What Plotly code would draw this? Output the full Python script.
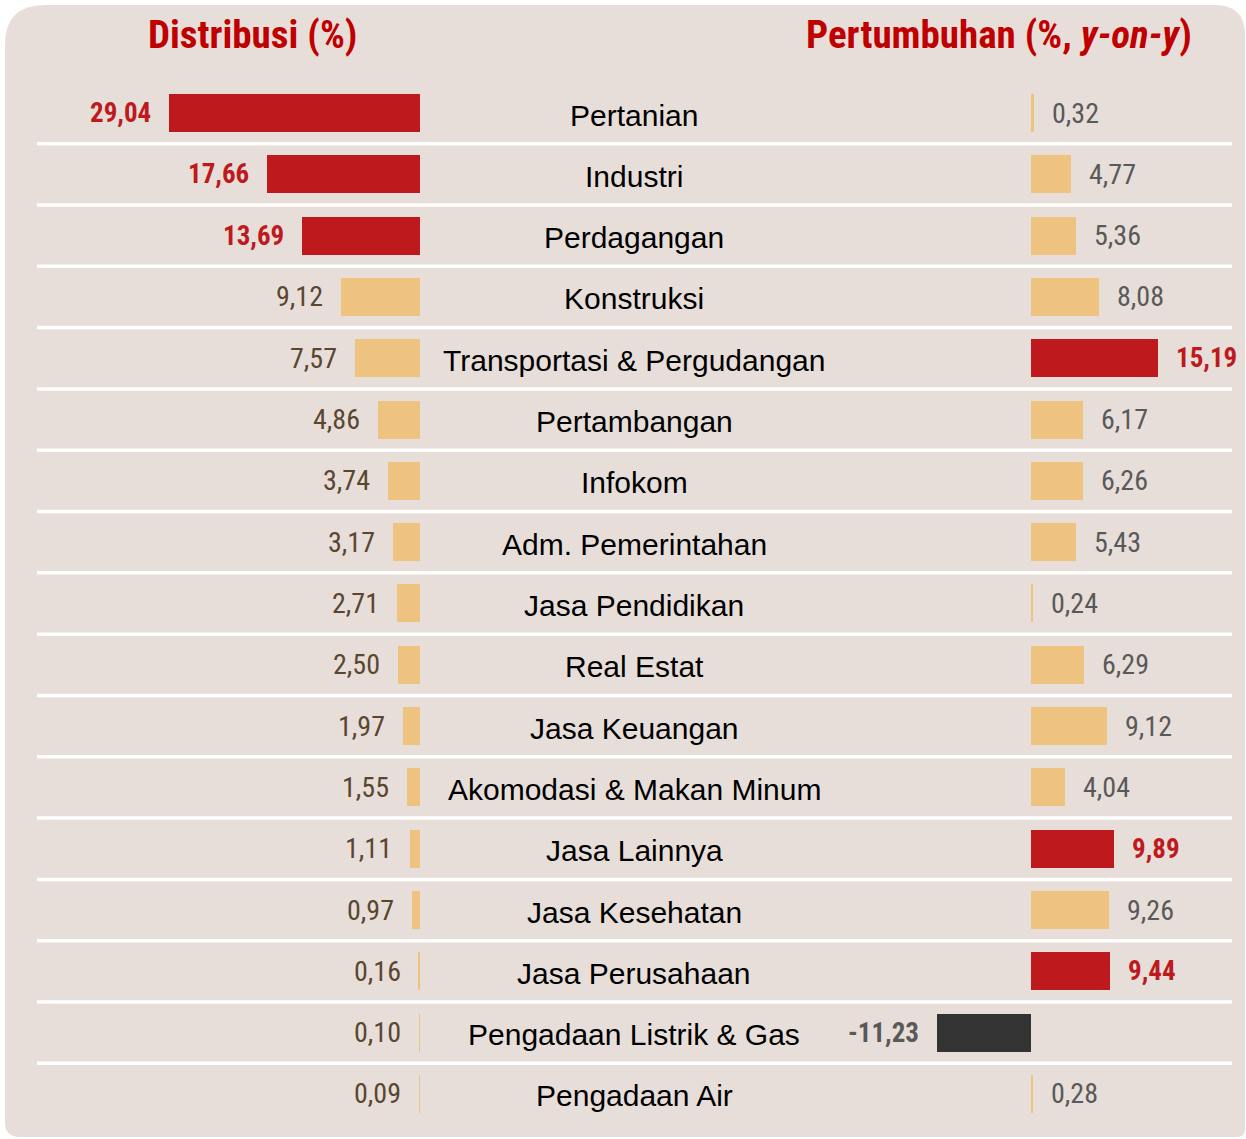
import plotly.graph_objects as go

# ---------------- data ----------------
categories = ["Pertanian", "Industri", "Perdagangan", "Konstruksi",
              "Transportasi & Pergudangan", "Pertambangan", "Infokom",
              "Adm. Pemerintahan", "Jasa Pendidikan", "Real Estat",
              "Jasa Keuangan", "Akomodasi & Makan Minum", "Jasa Lainnya",
              "Jasa Kesehatan", "Jasa Perusahaan", "Pengadaan Listrik & Gas",
              "Pengadaan Air"]
distribusi = [29.04, 17.66, 13.69, 9.12, 7.57, 4.86, 3.74, 3.17, 2.71, 2.50,
              1.97, 1.55, 1.11, 0.97, 0.16, 0.10, 0.09]
pertumbuhan = [0.32, 4.77, 5.36, 8.08, 15.19, 6.17, 6.26, 5.43, 0.24, 6.29,
               9.12, 4.04, 9.89, 9.26, 9.44, -11.23, 0.28]
title_left = "Distribusi (%)"
title_right = "Pertumbuhan (%, <i>y-on-y</i>)"

# ---------------- styles ----------------
W, H = 1246, 1139
RED = "#BE1A1E"
BEIGE = "#EEC27F"
DARK = "#333333"
BG = "#E7DED9"
TITLE_RED = "#C00000"
BROWN = "#5A4630"
GRAY = "#595959"
NARROW = "Roboto Condensed, Liberation Sans Narrow, DejaVu Sans Condensed, sans-serif"
REG = "Liberation Sans, Arial, sans-serif"

def top3(vals):
    s = sorted(vals, reverse=True)[:3]
    return [v in s for v in vals]

left_hi = top3(distribusi)
right_hi = top3(pertumbuhan)
left_colors = [RED if h else BEIGE for h in left_hi]
right_colors = [(RED if h else BEIGE) if v >= 0 else DARK for v, h in zip(pertumbuhan, right_hi)]

fmt = lambda v: f"{v:.2f}".replace(".", ",")

fig = go.Figure()
fig.add_trace(go.Bar(y=categories, x=distribusi, orientation="h", xaxis="x", yaxis="y",
                     marker=dict(color=left_colors, line=dict(width=0)), width=0.62,
                     hoverinfo="skip", showlegend=False))
fig.add_trace(go.Bar(y=categories, x=pertumbuhan, orientation="h", xaxis="x2", yaxis="y",
                     marker=dict(color=right_colors, line=dict(width=0)), width=0.62,
                     hoverinfo="skip", showlegend=False))

pitch = 61.31
first_center = 113
y_min = -first_center / pitch
y_max = y_min + H / pitch
lscale = 8.65
rscale = 8.37
left_zero = 420
right_start = 800
right_zero = 1031
r0 = -(right_zero - right_start) / rscale
r1 = r0 + (W - right_start) / rscale

ax_common = dict(showgrid=False, zeroline=False, showticklabels=False, showline=False, ticks="", fixedrange=True)
fig.update_layout(
    width=W, height=H,
    margin=dict(l=0, r=0, t=0, b=0),
    paper_bgcolor="white", plot_bgcolor="rgba(0,0,0,0)",
    xaxis=dict(domain=[0, left_zero / W], range=[left_zero / lscale, 0], **ax_common),
    xaxis2=dict(domain=[right_start / W, 1], range=[r0, r1], anchor="y", **ax_common),
    yaxis=dict(domain=[0, 1], type="category", categoryorder="array", categoryarray=categories,
               range=[y_max, y_min], **ax_common),
    bargap=0,
)

def px(x):
    return x / W

def py(y):
    return 1 - y / H

x0, x1, yt, yb = 5, 1245, 5, 1137
rtl, rtr, rbr, rbl = 40, 30, 8, 15
path = (f"M {px(x0+rtl)},{py(yt)} L {px(x1-rtr)},{py(yt)} Q {px(x1)},{py(yt)} {px(x1)},{py(yt+rtr)} "
        f"L {px(x1)},{py(yb-rbr)} Q {px(x1)},{py(yb)} {px(x1-rbr)},{py(yb)} "
        f"L {px(x0+rbl)},{py(yb)} Q {px(x0)},{py(yb)} {px(x0)},{py(yb-rbl)} "
        f"L {px(x0)},{py(yt+rtl)} Q {px(x0)},{py(yt)} {px(x0+rtl)},{py(yt)} Z")
shapes = [dict(type="path", path=path, xref="paper", yref="paper", fillcolor=BG,
               line=dict(width=0), layer="below")]
for i in range(len(categories) - 1):
    shapes.append(dict(type="line", xref="paper", yref="y", x0=37 / W, x1=1232 / W,
                       y0=i + 0.5, y1=i + 0.5, line=dict(color="white", width=3.5), layer="below"))
fig.update_layout(shapes=shapes)

ann = []
ann.append(dict(text=f"<b>{title_left}</b>", x=252 / W, y=py(35), xref="paper", yref="paper",
                showarrow=False, xanchor="center", yanchor="middle",
                font=dict(family=NARROW, size=39, color=TITLE_RED)))
ann.append(dict(text=f"<b>{title_right}</b>", x=999 / W, y=py(35), xref="paper", yref="paper",
                showarrow=False, xanchor="center", yanchor="middle",
                font=dict(family=NARROW, size=39, color=TITLE_RED)))
for c in categories:
    ann.append(dict(text=c, x=634 / W, y=c, xref="paper", yref="y", showarrow=False,
                    xanchor="center", yanchor="middle", yshift=-2,
                    font=dict(family=REG, size=30, color="black")))
for c, v, h in zip(categories, distribusi, left_hi):
    ann.append(dict(text=f"<b>{fmt(v)}</b>" if h else fmt(v), x=v, y=c, xref="x", yref="y",
                    showarrow=False, xanchor="right", yanchor="middle", xshift=-16,
                    font=dict(family=NARROW, size=27 if h else 28, color=RED if h else BROWN)))
for c, v, h in zip(categories, pertumbuhan, right_hi):
    if v >= 0:
        ann.append(dict(text=f"<b>{fmt(v)}</b>" if h else fmt(v), x=v, y=c, xref="x2", yref="y",
                        showarrow=False, xanchor="left", yanchor="middle", xshift=16,
                        font=dict(family=NARROW, size=27 if h else 28, color=RED if h else GRAY)))
    else:
        ann.append(dict(text=f"<b>{fmt(v)}</b>", x=v, y=c, xref="x2", yref="y",
                        showarrow=False, xanchor="right", yanchor="middle", xshift=-16,
                        font=dict(family=NARROW, size=27, color=GRAY)))
fig.update_layout(annotations=ann)

fig.write_html("out.html", config={"displayModeBar": False},
               post_script="document.body.style.margin='0';document.body.style.padding='0';")
